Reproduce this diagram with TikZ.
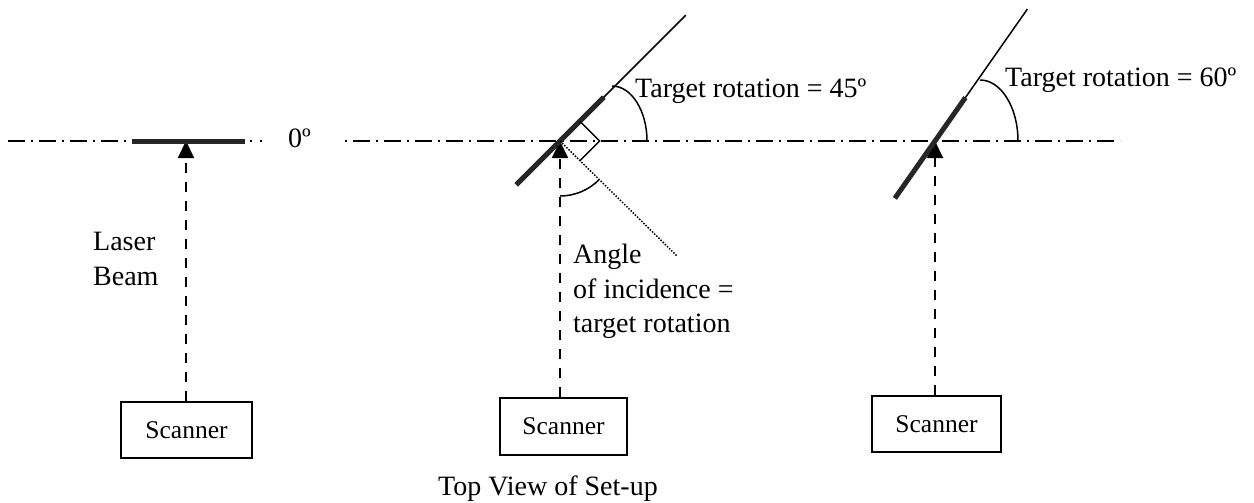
\documentclass[tikz,border=0pt]{standalone}
\usepackage{fontspec}
\setmainfont{Liberation Serif}
\usetikzlibrary{arrows.meta,calc}
\begin{document}
\begin{tikzpicture}[x=1pt,y=1pt,
  lbl/.style={inner sep=0pt, font=\fontsize{28}{34}\selectfont, align=left},
  scanbox/.style={draw, line width=1.4pt, minimum width=131pt, minimum height=56pt, inner sep=0pt, font=\fontsize{25.5}{30}\selectfont},
  axisline/.style={line width=1.5pt, dash pattern=on 17pt off 6pt on 2pt off 6pt},
  dotsline/.style={line width=1.5pt, dash pattern=on 2pt off 8pt},
  beam/.style={line width=2pt, dash pattern=on 10pt off 9pt, -{Triangle[length=17pt,width=16pt]}},
  target/.style={line width=5pt, draw=black!85},
  thin/.style={line width=1.5pt},
  normalline/.style={line width=1.5pt, dash pattern=on 1.5pt off 1.5pt}]
\useasboundingbox (0,0) rectangle (1254,-503);

% tips (points of incidence)
\coordinate (t1) at (186,-141);
\coordinate (t2) at (560,-141);
\coordinate (t3) at (935,-141);

% scanners
\node[scanbox] (s1) at (186.5,-430) {Scanner};
\node[scanbox, minimum width=127pt, minimum height=57pt] (s2) at (563.5,-426.5) {Scanner};
\node[scanbox, minimum width=129pt] (s3) at (936.5,-424) {Scanner};

% axis lines
\coordinate (a1) at (8,-141);
\coordinate (a2) at (245,-141);
\coordinate (a2b) at (267,-141);
\coordinate (a3) at (345,-141);
\coordinate (a4) at (1120,-141);
\draw[axisline] (a1) -- (a2);
\draw[dotsline, dash phase=-5pt] (a2) -- (a2b);
\draw[axisline, dash phase=23pt] (a3) -- (a4);

% beams
\draw[beam] (t1 |- s1.north) -- (t1);
\draw[beam] (t2 |- s2.north) -- (t2);
\draw[beam] (t3 |- s3.north) -- (t3);

% target 1 (0 deg)
\coordinate (b1a) at (132,-141);
\coordinate (b1b) at (245,-141);
\draw[target] (b1a) -- (b1b);

% target 2 (45 deg)
\coordinate (b2a) at ($(t2)+(225:62)$);
\coordinate (b2b) at ($(t2)+(45:62)$);
\coordinate (e2) at ($(t2)+(45:178)$);
\draw[thin] (t2) -- (e2);
\draw[target] (b2a) -- (b2b);
\coordinate (n2) at (677,-256);
\draw[normalline] (t2) -- (n2);
\coordinate (r1) at ($(t2)+(45:28)$);
\coordinate (r2) at ($(t2)+(0:39.6)$);
\coordinate (r3) at ($(t2)+(-45:28)$);
\draw[thin] (r1) -- (r2) -- (r3);
\draw[thin] (612,-86) arc[start angle=90, end angle=0, x radius=35, y radius=55];
\draw[thin] (560,-196) arc[start angle=270, end angle=315, radius=55];

% target 3 (60 deg)
\coordinate (b3a) at ($(t3)+(235:70)$);
\coordinate (b3b) at ($(t3)+(55:53)$);
\coordinate (e3) at ($(t3)+(55:161)$);
\draw[thin] (t3) -- (e3);
\draw[target] (b3a) -- (b3b);
\draw[thin] (980,-80) arc[start angle=90, end angle=0, x radius=38, y radius=61];

% labels
\node[lbl, anchor=base west] (zero) at (288,-147) {0º};
\node[lbl, anchor=base west] (laser) at (93,-250) {Laser};
\node[lbl, anchor=base west] (beamlbl) at (93,-285) {Beam};
\node[lbl, anchor=base west] (rot45) at (635,-97) {Target rotation = 45º};
\node[lbl, anchor=base west] (rot60) at (1005,-87) {Target rotation = 60º};
\node[lbl, anchor=base west] (ang1) at (573,-263) {Angle};
\node[lbl, anchor=base west] (ang2) at (573,-298) {of incidence =};
\node[lbl, anchor=base west] (ang3) at (573,-332) {target rotation};
\node[lbl, anchor=base west] (title) at (438,-495) {Top View of Set-up};
\end{tikzpicture}
\end{document}
